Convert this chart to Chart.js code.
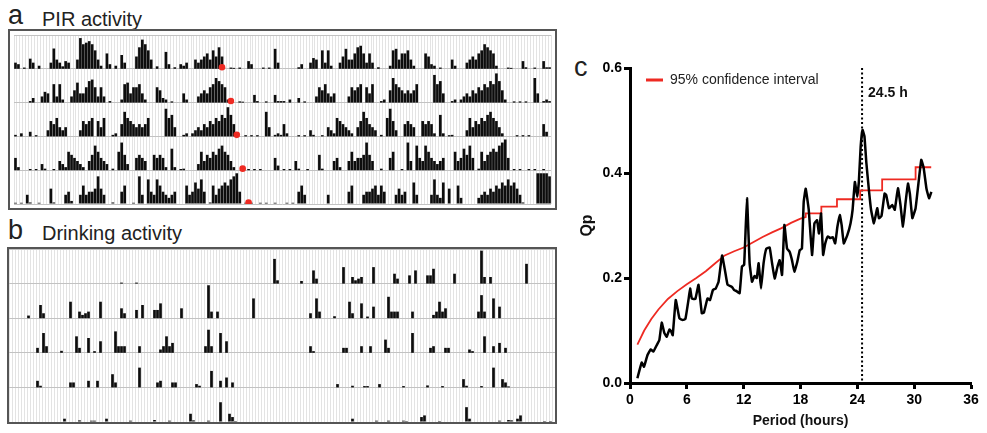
<!DOCTYPE html>
<html>
<head>
<meta charset="utf-8">
<script src="https://cdn.jsdelivr.net/npm/chart.js@4.4.1/dist/chart.umd.min.js"></script>
<style>
  body { margin: 0; width: 987px; height: 433px; background: #fff; position: relative; overflow: hidden;
         font-family: "Liberation Sans", Arial, sans-serif; }
  .lbl { position: absolute; color: #222; white-space: nowrap; line-height: 1; }
  .box { position: absolute; border: 2px solid #555; box-sizing: border-box; }
  .box canvas { display: block; }
</style>
</head>
<body>

<div class="lbl" style="left:8px;top:2px;font-size:27px">a</div>
<div class="lbl" style="left:42px;top:9px;font-size:20px">PIR activity</div>
<div class="box" style="left:8px;top:29px;width:549px;height:181px"><canvas id="pir" width="545" height="177"></canvas></div>

<div class="lbl" style="left:8px;top:217px;font-size:27px">b</div>
<div class="lbl" style="left:42px;top:223px;font-size:20px">Drinking activity</div>
<div class="box" style="left:7px;top:247px;width:550px;height:177px"><canvas id="drink" width="546" height="173"></canvas></div>

<div class="lbl" style="left:574px;top:54px;font-size:27px">c</div>
<canvas id="qp" width="427" height="393" style="position:absolute;left:560px;top:40px"></canvas>

<script>
// ---- actogram data: [bin, height] per day, 91 bins a day, double plotted ----
const binsPerDay = 91

const pirDay1 = [[0,2],[1,1.5],[3,0.4],[5,3.3],[6,2],[8,1],[12,2],[13,6.6],[14,3],[15,2],[16,0.8],[17,2.5],[18,2],[21,3],[22,10],[23,8],[24,8.5],[25,9],[26,8],[27,6],[28,3],[29,1],[31,5],[32,1.5],[34,1],[36,4.5],[37,2],[41,4],[42,7],[43,9.5],[44,8],[45,6],[46,3],[48,0.8],[51,5.5],[52,1.5],[54,0.5],[56,1.5],[57,1],[58,2],[61,3],[62,2],[63,3],[64,4],[65,5],[66,3],[67,6],[68,4],[69,7],[70,4],[73,0.4],[74,0.3],[76,0.4],[79,2.5],[80,1.5],[84,0.4],[86,0.4],[88,6.5],[89,2]]
const pirDay2 = [[5,0.5],[6,1.5],[9,2],[10,3.5],[11,3],[13,6],[14,2],[15,6],[16,1],[19,2],[20,4],[21,6.5],[22,3],[23,3],[24,5],[25,7],[26,7.5],[27,5],[28,2],[29,5],[30,2],[32,0.5],[36,1],[37,6],[38,6.5],[39,3],[40,5],[41,5],[42,6],[43,3],[44,1],[48,5],[49,4],[50,1.5],[51,1],[53,0.4],[57,3],[58,1],[62,2],[63,3],[64,4],[65,3],[66,5],[67,6],[68,8],[69,7],[70,6],[71,5],[72,1],[76,0.4],[77,0.3],[81,2.5],[82,0.5],[85,0.4],[88,2.5],[89,0.5],[90,0.5]]
const pirDay3 = [[0,0.5],[2,1],[5,1.5],[7,0.4],[11,2],[12,5],[13,4],[14,6],[15,3],[16,2],[17,3],[22,2],[23,5],[24,4],[25,5],[26,6],[28,5],[29,3],[30,6],[33,0.5],[34,1],[36,4],[37,8],[38,6],[39,5],[40,4],[41,3],[42,4],[43,3],[44,4],[45,6],[51,9],[52,6],[53,7],[54,3],[57,0.5],[58,1],[60,1],[61,2],[62,3],[63,2],[64,4],[65,3],[66,5],[67,4],[68,6],[69,5],[70,7],[71,6],[72,9.5],[73,7],[74,4],[75,1],[78,0.4],[80,0.4],[82,0.4],[85,8],[86,3],[88,0.5],[89,1],[90,0.5]]
const pirDay4 = [[0,4],[1,1],[5,0.4],[7,0.4],[9,2],[10,0.5],[13,0.4],[15,3],[16,2],[17,1],[18,6],[19,5],[20,4],[21,3],[22,2],[23,1],[25,3],[26,5],[27,8],[28,6],[29,4],[30,3],[31,2],[33,0.5],[35,6],[36,9],[37,5],[38,2],[41,4],[42,5],[43,4],[44,3],[47,5],[48,4],[49,5],[50,4],[51,1],[53,7],[54,1],[56,0.4],[57,0.5],[62,2],[63,6],[64,3],[65,5],[66,4],[67,6],[68,5],[69,7],[70,8],[71,6],[72,5],[73,3],[74,1],[79,0.4],[81,0.4],[83,0.4],[88,4],[89,1.5]]
const pirDay5 = [[0,0.4],[2,0.4],[4,3],[5,0.5],[8,0.4],[12,5],[13,0.5],[17,3],[18,4],[19,1],[22,3],[23,6],[24,3],[25,4],[26,4],[27,5],[28,9],[29,5],[30,3],[33,0.5],[36,4],[37,6],[40,0.4],[42,9],[43,3],[45,8],[46,4],[47,3],[48,8],[49,6],[50,4],[51,3],[52,2],[53,3],[54,4],[58,6],[59,3],[60,4],[61,7],[62,5],[63,8],[64,4],[66,0.5],[67,6],[68,3],[69,5],[70,6],[71,7],[72,6],[73,8],[74,9],[75,10],[76,4],[78,0.4],[80,0.4],[83,0.4],[85,0.4],[88,0.4]]
const pirDay6 = [[1,0.4],[3,0.4],[5,4],[6,6],[7,3],[15,3],[22,4],[23,6],[27,3],[28,4],[29,4],[30,5],[31,6],[32,3],[33,6],[34,4],[38,3],[39,5],[40,3],[41,4],[44,7],[45,3],[50,3],[51,8],[52,3],[53,2],[54,7],[56,5],[59,6],[60,2],[66,2],[67,3],[68,4],[69,3],[70,5],[71,4],[72,6],[73,5],[74,7],[75,6],[76,8],[77,6],[78,7],[79,5],[80,3],[81,0.5],[86,10],[87,10],[88,10],[89,10],[90,9]]

// activity offset marked in red, one bin per row
const pirOffsetBins = [70, 73, 75, 77, 79]

const drinkDay1 = [[37,0.3],[42,0.3],[88,7.5],[89,1]]
const drinkDay2 = [[6,0.8],[10,4],[11,1.5],[20,5],[23,2],[24,1],[25,1.5],[26,2],[30,5],[37,3],[38,1.5],[42,2.5],[44,4],[48,2.5],[49,2.5],[50,4.5],[57,3],[66,10],[67,2],[69,2],[81,6]]
const drinkDay3 = [[9,1.5],[11,6],[12,2],[17,0.6],[22,5],[23,1.5],[26,4.5],[28,0.5],[30,3.5],[35,6.5],[36,2],[37,2],[38,2],[43,2],[50,1],[51,2],[52,5],[53,2],[54,3],[65,2],[66,7],[67,2],[70,6],[72,3.5]]
const drinkDay4 = [[9,2],[10,0.5],[20,1.5],[21,1.5],[26,2],[29,2],[34,4],[35,1.5],[43,6],[49,1.5],[50,2],[54,1.5],[55,1.5],[62,1],[63,0.5],[67,5],[70,2],[72,3],[74,1.5]]
const drinkDay5 = [[18,1],[23,0.5],[27,0.4],[28,0.4],[32,1],[40,0.4],[48,0.6],[53,0.4],[60,2.5],[61,0.5],[66,0.4],[70,6],[73,2.5],[74,1.5],[75,0.3]]
const drinkDay6 = [[23,1],[31,0.4],[35,0.4],[40,0.4],[41,0.3],[46,1.5],[47,2],[52,0.3],[61,4.5],[62,1],[72,0.4],[75,0.6],[76,0.5],[78,1],[79,2],[87,0.3],[89,0.3]]

// ---- periodogram data ----
const periodHours = [0.78,1.23,1.48,1.84,2.19,2.47,2.82,3.1,3.35,3.63,3.88,4.16,4.35,4.51,4.83,5.22,5.57,5.85,6.17,6.35,6.53,6.9,7.23,7.58,7.8,8.18,8.45,8.75,9.05,9.35,9.72,10.05,10.3,10.76,11.0,11.25,11.57,11.82,12.05,12.35,12.63,12.88,13.15,13.38,13.58,13.83,14.1,14.39,14.74,15.0,15.27,15.55,15.8,16.05,16.3,16.58,16.85,17.1,17.35,17.65,17.92,18.15,18.34,18.55,18.87,19.22,19.47,19.75,19.95,20.17,20.39,20.6,20.88,21.15,21.4,21.66,21.9,22.15,22.35,22.57,22.95,23.28,23.5,23.74,23.99,24.16,24.35,24.55,24.75,24.95,25.22,25.45,25.75,26.1,26.28,26.55,26.88,27.05,27.34,27.69,27.95,28.29,28.55,28.82,29.1,29.35,29.55,29.81,30.15,30.45,30.75,31.0,31.3,31.57,31.82]
const qpValues = [0.009,0.039,0.031,0.053,0.064,0.06,0.072,0.082,0.115,0.095,0.088,0.102,0.098,0.091,0.158,0.123,0.12,0.122,0.158,0.18,0.161,0.16,0.187,0.133,0.134,0.161,0.158,0.177,0.18,0.193,0.243,0.212,0.187,0.183,0.177,0.175,0.171,0.222,0.225,0.352,0.228,0.193,0.204,0.2,0.228,0.18,0.228,0.256,0.258,0.228,0.199,0.22,0.234,0.206,0.301,0.256,0.25,0.234,0.212,0.23,0.253,0.256,0.345,0.37,0.33,0.244,0.304,0.31,0.285,0.323,0.244,0.265,0.279,0.276,0.278,0.266,0.298,0.32,0.3,0.266,0.282,0.304,0.33,0.383,0.355,0.383,0.45,0.482,0.47,0.42,0.368,0.33,0.304,0.333,0.314,0.318,0.361,0.358,0.333,0.339,0.33,0.371,0.34,0.298,0.345,0.38,0.36,0.314,0.333,0.38,0.425,0.41,0.37,0.352,0.364]

const ciHours = [0.78,1.5,2.25,3,4,5,6,7,8,9,10,11,12,13,14,15,16,17,18,18.55,18.55,20.2,20.2,21.85,21.85,24.3,24.3,26.62,26.62,30.15,30.15,31.8]
const ciValues = [0.073,0.1,0.122,0.14,0.16,0.175,0.188,0.2,0.213,0.228,0.243,0.251,0.258,0.268,0.278,0.287,0.295,0.305,0.313,0.316,0.323,0.323,0.336,0.336,0.35,0.35,0.367,0.367,0.388,0.388,0.411,0.411]

const peakPeriod = 24.5
const ciLabel = '95% confidence interval'

const FONT = '"Liberation Sans", Arial, sans-serif'


// turn a sparse day list into a dense array
const denseDay = ( pairs ) => {
  const out = new Array( binsPerDay ).fill( 0 )
  pairs.forEach( ( [ b, h ] ) => out[ b ] = h )
  return out
}

const actogram = ( canvasId, days, rowUnit, offsetBins ) => {

  const nRows = days.length - 1
  const dense = days.map( denseDay )
  const labels = []
  for ( let i = 0; i < binsPerDay * 2; i++ ) labels.push( i )

  const datasets = []

  for ( let r = 0; r < nRows; r++ ) {
    const base = ( nRows - 1 - r ) * rowUnit
    const row = dense[ r ].concat( dense[ r + 1 ] )
    datasets.push({
      type: 'bar',
      data: row.map( h => h > 0 ? [ base, base + h ] : null ),
      backgroundColor: '#0d0d0d',
      borderWidth: 0,
      barPercentage: 1,
      categoryPercentage: 0.9,
      grouped: false,
      order: 1
    })
  }

  if ( offsetBins ) {
    datasets.push({
      type: 'scatter',
      data: offsetBins.map( ( b, r ) => ({ x: b, y: ( nRows - 1 - r ) * rowUnit + 0.5 }) ),
      backgroundColor: '#ee2a22',
      borderWidth: 0,
      pointRadius: 3.3,
      order: -1
    })
  }

  new Chart( document.getElementById( canvasId ), {
    type: 'bar',
    data: { labels: labels, datasets: datasets },
    options: {
      responsive: false,
      animation: false,
      layout: { padding: 0 },
      plugins: { legend: { display: false }, tooltip: { enabled: false } },
      scales: {
        x: {
          type: 'category',
          grid: { color: '#e3e3e3', drawTicks: false, offset: true },
          ticks: { display: false },
          border: { display: false }
        },
        y: {
          min: 0,
          max: nRows * rowUnit,
          grid: { color: '#c2c2c2', drawTicks: false },
          ticks: { display: false, stepSize: rowUnit },
          border: { display: false }
        }
      }
    }
  })
}

actogram( 'pir', [ pirDay1, pirDay2, pirDay3, pirDay4, pirDay5, pirDay6 ], 11, pirOffsetBins )
actogram( 'drink', [ drinkDay1, drinkDay2, drinkDay3, drinkDay4, drinkDay5, drinkDay6 ], 10.5, null )


// dotted line at the peak period, its label and the legend entry
const periodMarker = {
  id: 'periodMarker',
  beforeDatasetsDraw( chart ) {
    const { ctx, chartArea, scales } = chart
    const px = scales.x.getPixelForValue( peakPeriod )
    ctx.save()
    ctx.strokeStyle = '#000'
    ctx.lineWidth = 2
    ctx.setLineDash( [ 2, 2.5 ] )
    ctx.beginPath()
    ctx.moveTo( px, chartArea.top )
    ctx.lineTo( px, chartArea.bottom )
    ctx.stroke()
    ctx.restore()
  },
  afterDatasetsDraw( chart ) {
    const { ctx, chartArea, scales } = chart
    const px = scales.x.getPixelForValue( peakPeriod )
    ctx.save()
    ctx.fillStyle = '#111'
    ctx.textBaseline = 'middle'
    ctx.font = 'bold 14px ' + FONT
    ctx.fillText( peakPeriod + ' h', px + 6, chartArea.top + 25 )

    ctx.fillStyle = '#ee2a22'
    ctx.fillRect( chartArea.left + 16, chartArea.top + 10.5, 17, 3 )
    ctx.fillStyle = '#222'
    ctx.font = '14px ' + FONT
    ctx.fillText( ciLabel, chartArea.left + 40, chartArea.top + 12 )
    ctx.restore()
  }
}

new Chart( document.getElementById( 'qp' ), {
  type: 'line',
  data: {
    datasets: [
      {
        label: 'Qp',
        data: periodHours.map( ( h, i ) => ({ x: h, y: qpValues[ i ] }) ),
        borderColor: '#000',
        borderWidth: 2.5,
        pointRadius: 0,
        tension: 0.1
      },
      {
        label: ciLabel,
        data: ciHours.map( ( h, i ) => ({ x: h, y: ciValues[ i ] }) ),
        borderColor: '#ee2a22',
        borderWidth: 1.8,
        pointRadius: 0
      }
    ]
  },
  options: {
    responsive: false,
    animation: false,
    layout: { padding: { left: 0, top: 28, right: 16, bottom: 0 } },
    plugins: { legend: { display: false }, tooltip: { enabled: false } },
    scales: {
      x: {
        type: 'linear',
        min: 0,
        max: 36,
        ticks: { stepSize: 6, color: '#000', padding: 3, font: { family: FONT, size: 14, weight: 'bold' } },
        grid: { drawOnChartArea: false, tickLength: 6, tickWidth: 3, tickColor: '#000' },
        border: { color: '#000', width: 3 },
        title: { display: true, text: 'Period (hours)', color: '#111', padding: { top: 0, bottom: 3 },
                 font: { family: FONT, size: 14, weight: 'bold' } },
        afterFit: s => { s.height = 50 }
      },
      y: {
        min: 0,
        max: 0.6,
        ticks: { stepSize: 0.2, color: '#000', padding: 2, callback: v => v.toFixed( 1 ),
                 font: { family: FONT, size: 14, weight: 'bold' } },
        grid: { drawOnChartArea: false, tickLength: 6, tickWidth: 3, tickColor: '#000' },
        border: { color: '#000', width: 3 },
        title: { display: true, text: 'Qp', color: '#111', padding: { top: 18, bottom: 0 },
                 font: { family: FONT, size: 16, weight: 'bold' } },
        afterFit: s => { s.width = 70 }
      }
    }
  },
  plugins: [ periodMarker ]
})
</script>
</body>
</html>
